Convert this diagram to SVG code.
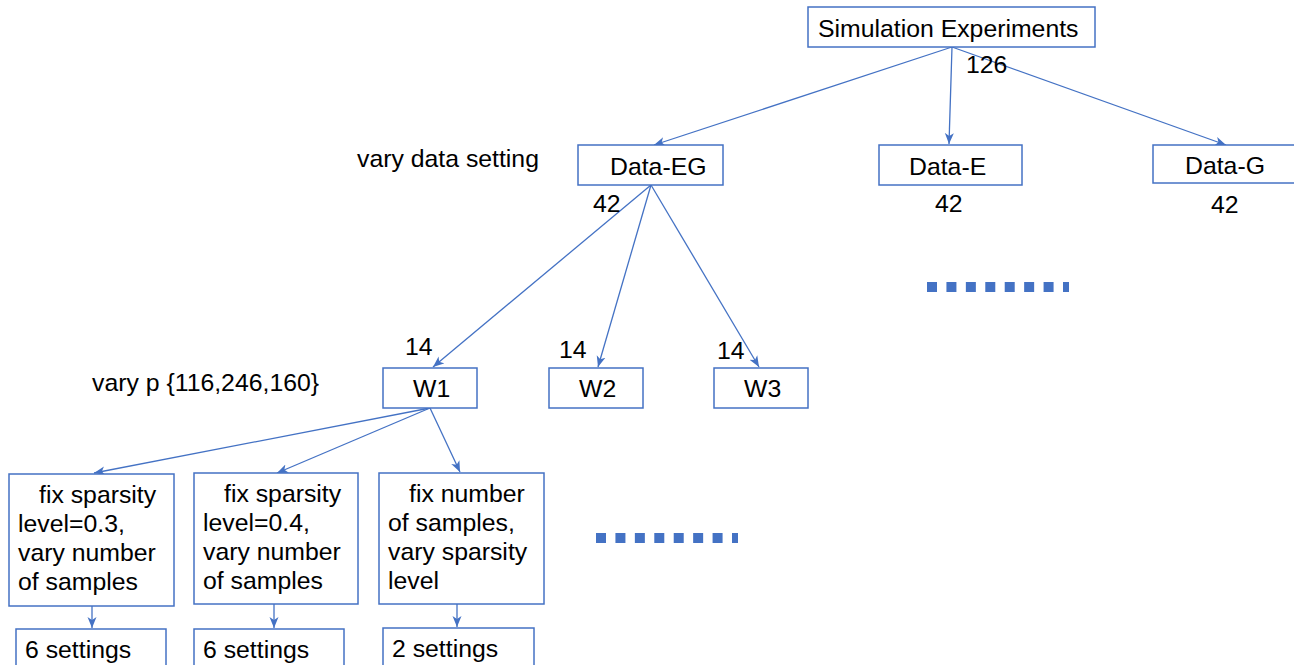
<svg xmlns="http://www.w3.org/2000/svg" width="1294" height="665" viewBox="0 0 1294 665">
  <style>
    .box { fill: #ffffff; stroke: #4472C4; stroke-width: 1.5; }
    .lbl { font-family: "Liberation Sans", Arial, sans-serif; font-size: 24.8px; fill: #000000; }
    .edge { stroke: #4472C4; stroke-width: 1.3; fill: none; marker-end: url(#arrow); }
    .dots { stroke: #4472C4; stroke-width: 10; stroke-dasharray: 10 9.43; fill: none; }
  </style>
  <defs>
    <marker id="arrow" markerUnits="userSpaceOnUse" markerWidth="12" markerHeight="10" refX="11" refY="5" orient="auto">
      <path d="M0,0.5 L11,5 L0,9.5 L3,5 Z" fill="#4472C4"/>
    </marker>
  </defs>
  <rect width="1294" height="665" fill="#ffffff"/>

  <!-- connectors -->
  <g id="connectors">
    <line class="edge" x1="952" y1="47" x2="654" y2="145"/>
    <line class="edge" x1="952" y1="47" x2="949" y2="144"/>
    <line class="edge" x1="952" y1="47" x2="1226" y2="145"/>
    <line class="edge" x1="651" y1="185" x2="433" y2="367"/>
    <line class="edge" x1="651" y1="185" x2="598" y2="367"/>
    <line class="edge" x1="651" y1="185" x2="759" y2="367"/>
    <line class="edge" x1="430" y1="408" x2="94" y2="473"/>
    <line class="edge" x1="430" y1="408" x2="277" y2="473"/>
    <line class="edge" x1="430" y1="408" x2="460" y2="472"/>
    <line class="edge" x1="92" y1="606" x2="92" y2="628"/>
    <line class="edge" x1="274" y1="604" x2="274" y2="628"/>
    <line class="edge" x1="457" y1="604" x2="457" y2="627"/>
  </g>

  <!-- root -->
  <g id="simulation-experiments">
    <rect class="box" x="808" y="7" width="287" height="40"/>
    <text class="lbl" x="818" y="37">Simulation Experiments</text>
    <text class="lbl" x="966" y="73">126</text>
  </g>

  <text class="lbl" x="357" y="167">vary data setting</text>

  <!-- data settings -->
  <g id="data-eg">
    <rect class="box" x="578" y="145" width="145" height="40"/>
    <text class="lbl" x="610" y="175">Data-EG</text>
    <text class="lbl" x="593" y="212">42</text>
  </g>
  <g id="data-e">
    <rect class="box" x="879" y="145" width="143" height="40"/>
    <text class="lbl" x="909" y="175">Data-E</text>
    <text class="lbl" x="935" y="212">42</text>
  </g>
  <g id="data-g">
    <rect class="box" x="1153" y="145" width="150" height="38"/>
    <text class="lbl" x="1185" y="174">Data-G</text>
    <text class="lbl" x="1211" y="213">42</text>
  </g>

  <line class="dots" x1="927" y1="287" x2="1069" y2="287"/>

  <text class="lbl" x="92" y="391">vary p {116,246,160}</text>

  <!-- W level -->
  <g id="w1">
    <rect class="box" x="383" y="368" width="94" height="40"/>
    <text class="lbl" x="413" y="397">W1</text>
    <text class="lbl" x="405" y="355">14</text>
  </g>
  <g id="w2">
    <rect class="box" x="549" y="368" width="94" height="40"/>
    <text class="lbl" x="579" y="397">W2</text>
    <text class="lbl" x="559" y="358">14</text>
  </g>
  <g id="w3">
    <rect class="box" x="714" y="368" width="94" height="40"/>
    <text class="lbl" x="744" y="397">W3</text>
    <text class="lbl" x="717" y="359">14</text>
  </g>

  <!-- experiment designs -->
  <g id="design-1">
    <rect class="box" x="9" y="474" width="165" height="132"/>
    <text class="lbl" x="39" y="503">fix sparsity</text>
    <text class="lbl" x="18" y="532">level=0.3,</text>
    <text class="lbl" x="18" y="561">vary number</text>
    <text class="lbl" x="18" y="590">of samples</text>
  </g>
  <g id="design-2">
    <rect class="box" x="194" y="473" width="164" height="131"/>
    <text class="lbl" x="224" y="502">fix sparsity</text>
    <text class="lbl" x="203" y="531">level=0.4,</text>
    <text class="lbl" x="203" y="560">vary number</text>
    <text class="lbl" x="203" y="589">of samples</text>
  </g>
  <g id="design-3">
    <rect class="box" x="379" y="473" width="165" height="131"/>
    <text class="lbl" x="409" y="502">fix number</text>
    <text class="lbl" x="388" y="531">of samples,</text>
    <text class="lbl" x="388" y="560">vary sparsity</text>
    <text class="lbl" x="388" y="589">level</text>
  </g>

  <line class="dots" x1="596" y1="538" x2="738" y2="538"/>

  <!-- setting counts -->
  <g id="settings-1">
    <rect class="box" x="16" y="629" width="150" height="50"/>
    <text class="lbl" x="25" y="658">6 settings</text>
  </g>
  <g id="settings-2">
    <rect class="box" x="194" y="629" width="150" height="50"/>
    <text class="lbl" x="203" y="658">6 settings</text>
  </g>
  <g id="settings-3">
    <rect class="box" x="383" y="628" width="151" height="50"/>
    <text class="lbl" x="392" y="657">2 settings</text>
  </g>
</svg>
